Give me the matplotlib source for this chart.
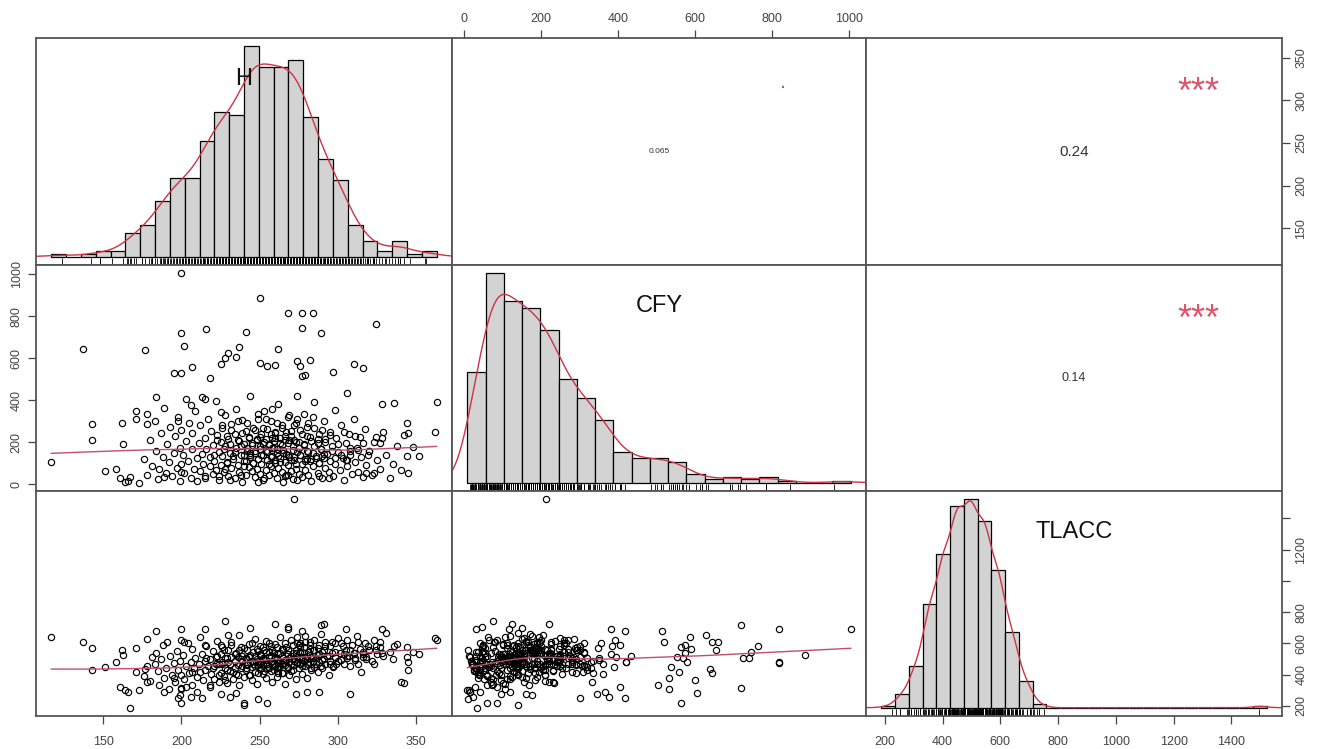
import numpy as np
import matplotlib
matplotlib.use("Agg")
import matplotlib.pyplot as plt
from matplotlib.transforms import blended_transform_factory

plt.rcParams["font.family"] = ["Liberation Sans", "DejaVu Sans"]

names = ["H", "CFY", "TLACC"]

h = [117, 137, 143, 143, 151, 158, 162, 163, 161, 164,
     166, 167, 171, 171, 178, 178, 173, 177, 200, 250,
     268, 277, 284, 277, 289, 324, 200, 216, 241, 202,
     262, 237, 230, 235, 225, 228, 250, 274, 282, 276,
     279, 277, 297, 310, 316, 207, 195, 200, 218, 255,
     260, 184, 189, 203, 206, 213, 215, 306, 328, 336,
     344, 345, 342, 348, 352, 344, 345, 362, 363, 318,
     323, 327, 328, 320, 272, 240, 240, 249, 231, 225,
     198, 200, 308, 288, 273, 280, 340,
     176, 178, 180, 181, 183, 184, 185, 186, 187, 188, 189, 190,
     191, 192, 193, 194, 195, 196, 197, 198, 199, 199, 200, 200,
     201, 202, 203, 204, 205, 206, 207, 207, 208, 209, 210, 210,
     211, 212, 212, 213, 214, 215, 215, 216, 217, 218, 218, 219,
     220, 220, 221, 222, 222, 223, 224, 224, 225, 225,
     226, 226, 227, 228, 228, 229, 230, 230, 231, 232, 232, 233,
     234, 234, 235, 235, 236, 237, 237, 238, 239, 239, 240, 240,
     241, 241, 242, 243, 243, 244, 244, 245, 245, 246, 246, 247,
     247, 248, 248, 249, 249, 250, 250,
     251, 251, 252, 252, 253, 253, 254, 254, 255, 255,
     256, 256, 257, 257, 258, 258, 259, 259, 260, 260,
     261, 261, 262, 262, 263, 263, 264, 264, 265, 265,
     266, 266, 267, 267, 268, 268, 269, 269, 270, 270,
     271, 271, 272, 273, 273, 274, 274, 275, 275,
     276, 276, 277, 277, 278, 278, 279, 279, 280, 280,
     281, 281, 282, 283, 283, 284, 284, 285, 285, 286,
     287, 287, 288, 288, 289, 290, 290, 291, 292, 292,
     293, 294, 295, 295, 296, 297, 298, 298, 299, 300,
     301, 302, 303, 304, 305, 306, 307, 308, 309, 310,
     311, 312, 313, 314, 315, 316, 317, 318, 320, 322,
     323, 325, 327, 329, 331, 333, 335, 338,
     228, 260, 291, 244, 215, 305, 268,
     221, 223, 224, 226, 227, 229, 229, 231, 232, 233,
     234, 236, 236, 238, 238, 239, 241, 242, 242, 243,
     244, 245, 246, 247, 247, 248, 249, 249, 250, 250,
     251, 252, 252, 253, 254, 254, 255, 256, 256, 257,
     257, 258, 258, 259, 260, 260, 261, 261, 262, 263,
     263, 264, 264, 265, 266, 266, 267, 268, 268, 269,
     270, 270, 271, 272, 272, 273, 274, 274, 275, 276,
     277, 278, 279, 280, 281, 282, 283, 284, 285, 286,
     287, 288, 289, 290, 291, 292, 294, 295, 296, 298,
     300, 302, 304, 306, 308, 311, 313, 316, 319, 324]

cfy = [106, 643, 289, 211, 62, 71, 293, 190, 28, 12,
       14, 33, 347, 309, 333, 285, 8, 638, 1004, 885,
       817, 817, 817, 746, 719, 762, 719, 741, 725, 658,
       643, 654, 627, 606, 574, 600, 579, 587, 590, 563,
       520, 515, 536, 574, 552, 558, 531, 531, 504, 563,
       568, 417, 365, 404, 377, 417, 404, 433, 381, 385,
       293, 246, 233, 179, 135, 135, 55, 249, 392, 55,
       55, 198, 222, 158, 212, 139, 85, 11, 22, 345,
       302, 60, 160, 40, 95, 120, 70,
       120, 45, 210, 88, 300, 160, 25, 72, 245, 130, 35, 55,
       190, 105, 275, 38, 150, 230, 80, 320, 18, 175, 260, 95,
       140, 52, 205, 112, 290, 30, 168, 245, 75, 350, 125, 15,
       198, 62, 280, 145, 95, 220, 40, 170, 310, 85, 130, 255,
       48, 185, 110, 395, 68, 235, 155, 22, 200, 90,
       270, 135, 58, 180, 330, 100, 215, 40, 150, 285, 78, 120,
       240, 28, 175, 360, 92, 205, 60, 140, 305, 12, 190, 110,
       255, 45, 160, 82, 225, 130, 420, 65, 185, 270, 100, 35,
       150, 215, 75, 310, 120, 170, 50,
       240, 95, 140, 20, 200, 350, 70, 160, 115, 265,
       42, 185, 85, 300, 135, 220, 55, 175, 100, 245,
       30, 150, 380, 80, 195, 125, 60, 280, 165, 10,
       230, 105, 45, 145, 320, 90, 210, 130, 65, 255,
       180, 25, 115, 290, 75, 155, 420, 200, 50,
       140, 260, 95, 35, 185, 335, 120, 70, 230, 160,
       45, 290, 110, 205, 15, 150, 85, 270, 390, 125,
       55, 195, 100, 240, 170, 30, 135, 300, 80, 215,
       145, 60, 250, 110, 180, 40, 355, 95, 220, 155,
       70, 280, 125, 20, 195, 85, 240, 140, 50, 310,
       105, 175, 60, 225, 130, 35, 265, 90, 160, 45,
       200, 115, 75, 250, 140, 30, 95, 180,
       74, 220, 125, 150, 30, 115, 45,
       140, 210, 40, 280, 170, 230, 105, 190, 260, 135,
       155, 210, 300, 45, 180, 245, 110, 175, 290, 220,
       140, 195, 100, 260, 160, 210, 120, 335, 180, 225,
       140, 270, 190, 30, 215, 310, 155, 190, 95, 240,
       130, 175, 360, 205, 115, 250, 170, 290, 135, 220,
       105, 185, 270, 150, 210, 40, 250, 140, 195, 330,
       115, 230, 165, 280, 130, 200, 20, 310, 175, 140,
       240, 190, 110, 275, 155, 225, 120, 320, 180, 135,
       215, 100, 170, 260, 145, 200, 30, 235, 160, 125,
       190, 140, 250, 115, 175, 230, 165, 195, 140, 225]

tlacc = [642, 610, 568, 429, 450, 478, 557, 525, 318, 301,
         291, 188, 568, 418, 355, 625, 301, 433, 689, 525,
         689, 472, 482, 546, 717, 583, 312, 504, 508, 606,
         412, 557, 653, 284, 587, 365, 482, 643, 565, 578,
         610, 680, 450, 535, 514, 418, 380, 306, 333, 216,
         504, 680, 291, 323, 259, 252, 589, 520, 691, 585,
         578, 478, 348, 546, 531, 514, 429, 636, 621, 510,
         465, 610, 540, 560, 1522, 203, 216, 242, 259, 274,
         248, 216, 276, 291, 276, 291, 350,
         392, 455, 361, 512, 468, 540, 420, 333, 497, 590, 378, 442,
         610, 307, 520, 395, 472, 355, 548, 430, 488, 268, 620, 400,
         525, 370, 455, 600, 412, 480, 335, 562, 445, 505, 385, 290,
         470, 640, 418, 530, 362, 490, 428, 585, 452, 318, 498, 405,
         552, 440, 372, 515, 470, 612, 350, 465, 533, 408,
         470, 578, 392, 505, 440, 348, 560, 480, 425, 515, 608, 372,
         490, 445, 538, 402, 462, 655, 330, 498, 455, 520, 382, 570,
         442, 505, 470, 395, 593, 525, 478, 448, 362, 545, 488, 415,
         628, 500, 340, 462, 552, 435, 585,
         480, 528, 405, 460, 560, 495, 380, 615, 470, 440,
         512, 545, 425, 585, 490, 355, 540, 468, 598, 510,
         445, 385, 530, 475, 640, 455, 520, 470, 412, 560,
         495, 338, 485, 575, 450, 530, 395, 505, 620, 465,
         540, 430, 490, 555, 372, 515, 480, 445, 590,
         470, 600, 512, 405, 535, 490, 650, 455, 500, 380,
         545, 470, 590, 430, 515, 560, 485, 620, 448, 505,
         570, 415, 530, 480, 660, 495, 440, 555, 610, 470,
         520, 395, 585, 485, 540, 452, 600, 510, 470, 635,
         540, 495, 580, 470, 560, 620, 520, 455, 590, 540,
         505, 650, 470, 565, 415, 545, 600, 500, 555, 485,
         620, 530, 575, 520, 665, 545, 500, 595,
         742, 721, 721, 700, 690, 692, 705,
         455, 520, 395, 480, 560, 430, 505, 470, 590, 415,
         530, 400, 510, 575, 445, 485, 430, 555, 460, 515,
         395, 600, 470, 520, 455, 565, 490, 410, 470, 530,
         445, 505, 575, 420, 495, 545, 470, 600, 440, 520,
         480, 560, 470, 430, 515, 455, 575, 500, 450, 540,
         485, 410, 565, 505, 460, 600, 495, 440, 555, 480,
         520, 425, 590, 505, 460, 540, 475, 600, 505, 545,
         455, 575, 500, 520, 480, 610, 445, 505, 560, 470,
         525, 590, 455, 545, 500, 580, 520, 465, 610, 545,
         490, 600, 530, 505, 560, 495, 610, 530, 580, 560]

# histogram bins (start, width) and counts
h_start, h_width = 110, 10
h_counts = [1, 0, 1, 2, 2, 9, 12, 21, 30, 30, 44, 55, 54, 80, 72, 72, 75,
            53, 37, 29, 12, 6, 2, 6, 1, 2]
cfy_start, cfy_width = 0, 50
cfy_counts = [64, 121, 105, 101, 88, 60, 49, 36, 18, 14, 14, 12, 5, 2, 3, 2,
              3, 1, 0, 0, 1]
tl_start, tl_width = 150, 50
tl_counts = [1, 8, 25, 63, 93, 122, 126, 113, 83, 46, 16, 2, 0, 0, 0, 0, 0,
             0, 0, 0, 0, 0, 0, 0, 0, 0, 0, 1]

# upper panels
cor_cells = [(0, 1), (0, 2), (1, 2)]
cor_text = ["0.065", "0.24", "0.14"]
cor_sig = [".", "***", "***"]

h_ticks = [150, 200, 250, 300, 350]
cfy_ticks = [0, 200, 400, 600, 800, 1000]
tl_ticks = [200, 400, 600, 800, 1000, 1200, 1400]
tl_right_labels = ["200", "400", "600", "800", "", "1200", ""]

vals = [np.array(h, float), np.array(cfy, float), np.array(tlacc, float)]
hists = [(h_start, h_width, h_counts), (cfy_start, cfy_width, cfy_counts),
         (tl_start, tl_width, tl_counts)]


def rlim(v):
    lo, hi = v.min(), v.max()
    d = (hi - lo) * 0.04
    return lo - d, hi + d


def lowess(x, y, f=2 / 3, iters=3):
    o = np.argsort(x, kind="stable")
    x, y = x[o], y[o]
    n = len(x)
    r = int(np.ceil(f * n))
    rob = np.ones(n)
    fit = np.zeros(n)
    for _ in range(iters + 1):
        for i in range(n):
            d = np.abs(x - x[i])
            hh = max(np.sort(d)[r - 1], 1e-9)
            w = np.clip(d / hh, 0, 1)
            w = (1 - w ** 3) ** 3 * rob
            sw = w.sum()
            mx, my = (w * x).sum() / sw, (w * y).sum() / sw
            vx = (w * (x - mx) ** 2).sum()
            b = (w * (x - mx) * (y - my)).sum() / vx if vx > 1e-9 else 0
            fit[i] = my + b * (x[i] - mx)
        res = y - fit
        s = np.median(np.abs(res))
        u = np.clip(res / (6 * s), -1, 1)
        rob = (1 - u ** 2) ** 2
    return x, fit


def kde(edges, counts):
    c = (edges[:-1] + edges[1:]) / 2
    s = np.repeat(c, counts)
    n = len(s)
    q75, q25 = np.percentile(s, [75, 25])
    bw = 0.9 * min(s.std(ddof=1), (q75 - q25) / 1.34) * n ** -0.2
    g = np.linspace(s.min() - 3 * bw, s.max() + 3 * bw, 600)
    d = np.exp(-0.5 * ((g[:, None] - s[None, :]) / bw) ** 2).sum(1)
    return g, d / (n * bw * np.sqrt(2 * np.pi))


lims = [rlim(v) for v in vals]

W, H = 1319, 749
xs = [36, 452, 866, 1282]
ys = [38, 265, 491, 716]

fig = plt.figure(figsize=(W / 100, H / 100), dpi=100)

frame_col = "#555555"
tick_kw = dict(direction="out", length=5.5, width=0.9, color="#444444",
               labelsize=9, labelcolor="#444444")
smooth_col = "#c0506a"
dens_col = "#cc3344"
star_col = "#DF536B"
cor_sizes = [6, 11, 9]


def rect(i, j):
    return [xs[j] / W, 1 - ys[i + 1] / H, (xs[j + 1] - xs[j]) / W,
            (ys[i + 1] - ys[i]) / H]


def style(ax):
    for sp in ax.spines.values():
        sp.set_color(frame_col)
        sp.set_linewidth(1.3)
    ax.set_xticks([])
    ax.set_yticks([])


axes = {}
for i in range(3):
    for j in range(3):
        ax = fig.add_axes(rect(i, j))
        style(ax)
        axes[i, j] = ax
        if i > j:
            x, y = vals[j], vals[i]
            ax.plot(x, y, "o", mfc="none", mec="black", ms=4.5, mew=0.85)
            sx, sy = lowess(x, y)
            ax.plot(sx, sy, color=smooth_col, lw=1)
            ax.set_xlim(lims[j])
            ax.set_ylim(lims[i])
        elif i == j:
            start, width, counts = hists[i]
            counts = np.array(counts)
            edges = start + width * np.arange(len(counts) + 1)
            dens = counts / (counts.sum() * width)
            ax.bar(edges[:-1], dens, width=width, align="edge",
                   color="#d3d3d3", edgecolor="black", linewidth=0.9)
            g, d = kde(edges, counts)
            ax.plot(g, d, color=dens_col, lw=1)
            span = edges[-1] - edges[0]
            ax.set_xlim(edges[0] - 0.04 * span, edges[-1] + 0.04 * span)
            m = dens.max()
            ax.set_ylim(-0.04 * m, 1.04 * m)
            tr = blended_transform_factory(ax.transData, ax.transAxes)
            ax.vlines(vals[i], 0, 0.03, transform=tr, color="black", lw=0.6)
            ax.text(0.5, 0.82, names[i], transform=ax.transAxes,
                    ha="center", va="center", fontsize=17, color="#111111")
        else:
            ax.set_xlim(lims[j])
            ax.set_ylim(lims[i])

for (i, j), txt, sig, fs in zip(cor_cells, cor_text, cor_sig, cor_sizes):
    ax = axes[i, j]
    ax.text(0.5, 0.5, txt, transform=ax.transAxes, ha="center",
            va="center", fontsize=fs, color="#333333")
    if sig == ".":
        ax.text(0.8, 0.78, sig, transform=ax.transAxes, ha="center",
                va="baseline", fontsize=16, color="#a06070")
    else:
        ax.text(0.8, 0.755, sig, transform=ax.transAxes, ha="center",
                va="center", fontsize=26, color=star_col)

# outer axes
ax = axes[2, 0]
ax.set_xticks(h_ticks)
ax.tick_params(axis="x", pad=9, **tick_kw)

ax = axes[0, 1]
ax.xaxis.tick_top()
ax.set_xticks(cfy_ticks)
ax.tick_params(axis="x", pad=4, **tick_kw)

ax = axes[1, 0]
ax.set_yticks(cfy_ticks)
ax.tick_params(axis="y", pad=4, **tick_kw)
for lab in ax.get_yticklabels():
    lab.set_rotation(90)
    lab.set_va("center")

ax = axes[0, 2]
ax.yaxis.tick_right()
ax.set_yticks(h_ticks)
ax.tick_params(axis="y", pad=4, **tick_kw)
for lab in ax.get_yticklabels():
    lab.set_rotation(90)
    lab.set_va("center")

axt = fig.add_axes(rect(2, 2))
axt.patch.set_visible(False)
for sp in axt.spines.values():
    sp.set_visible(False)
axt.set_xlim(lims[2])
axt.set_ylim(lims[2])
axt.set_xticks(tl_ticks)
axt.tick_params(axis="x", pad=9, **tick_kw)
axt.yaxis.tick_right()
axt.set_yticks(tl_ticks)
axt.set_yticklabels(tl_right_labels)
axt.tick_params(axis="y", pad=4, **tick_kw)
for lab in axt.get_yticklabels():
    lab.set_rotation(90)
    lab.set_va("center")

fig.savefig("out.png", dpi=100, facecolor="white")
